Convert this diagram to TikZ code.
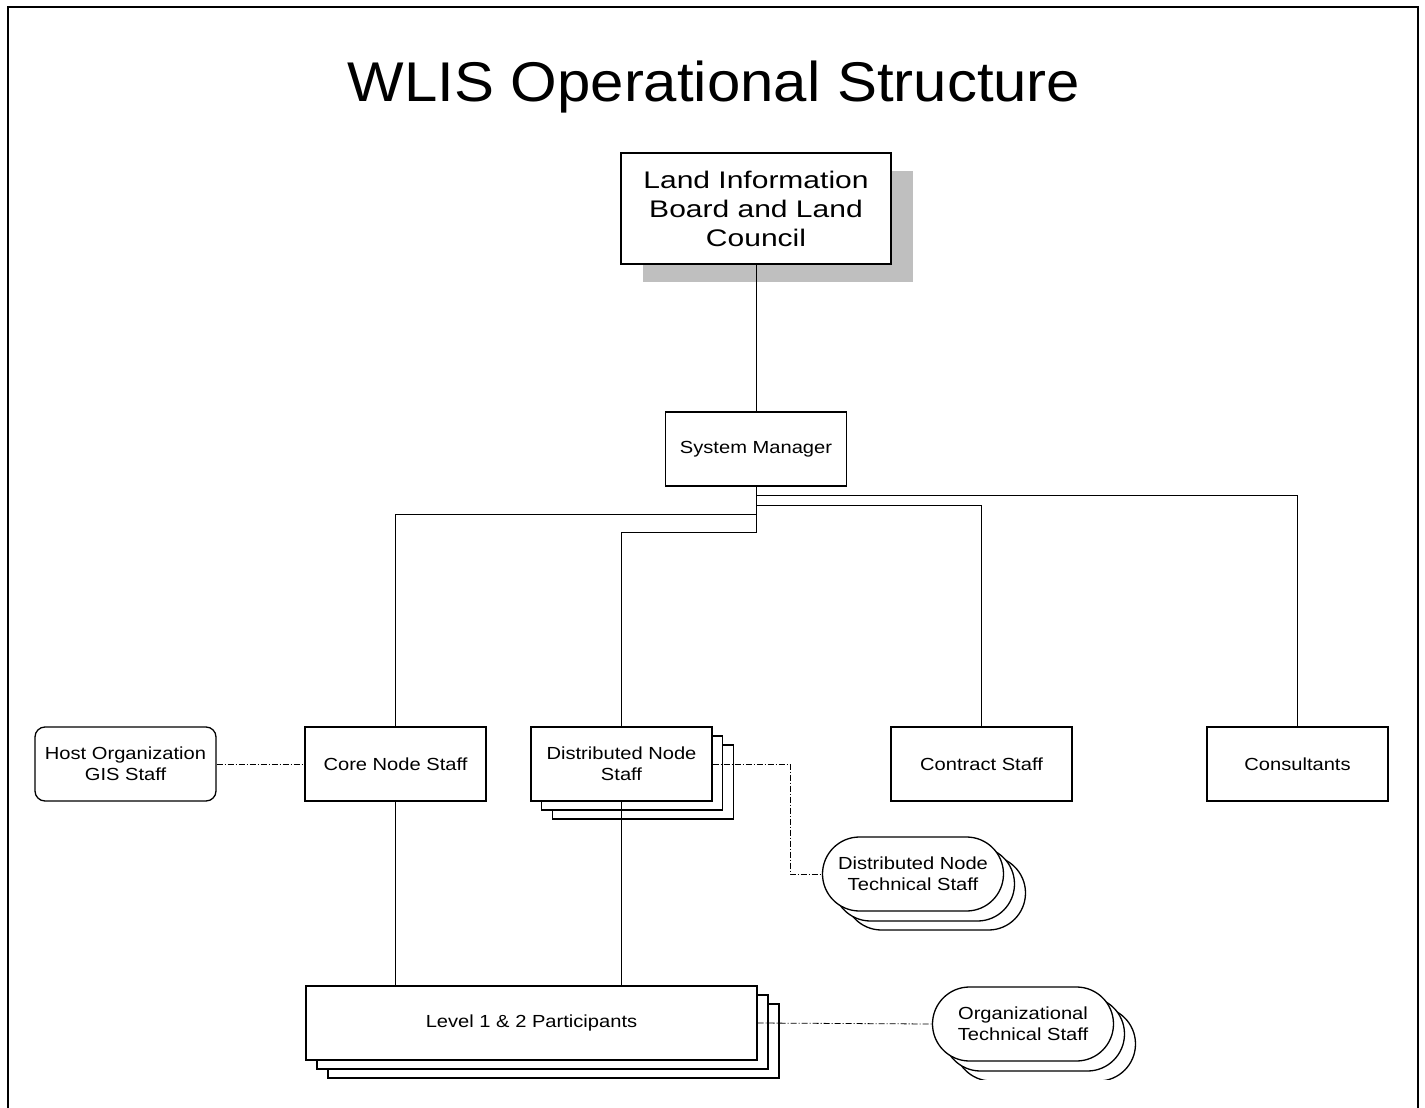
\documentclass[tikz,border=0pt]{standalone}
\usepackage{fontspec}
\setmainfont{Liberation Sans}
% horizontally widened faces for the headings and box labels
\newfontfamily\titleface{Liberation Sans}[FakeStretch=1.07]
\newfontfamily\boardface{Liberation Sans}[FakeStretch=1.25]
\newfontfamily\labelface{Liberation Sans}[FakeStretch=1.15]
\begin{document}
\begin{tikzpicture}[x=1pt,y=-1pt,
  unit/.style={draw=black, line width=1.3pt, fill=white, inner sep=0pt,
    minimum width=181pt, minimum height=74pt, align=center,
    font=\labelface\fontsize{17.5}{21}\selectfont},
  soft/.style={unit, rounded corners=10pt},
  pill/.style={unit, rounded corners=37pt},
  link/.style={line width=0.8pt},
  dotlink/.style={line width=0.8pt, dash pattern=on 6pt off 2pt on 1pt off 2pt}]
\useasboundingbox (0,0) rectangle (1425,1108);

% page frame (open at the bottom)
\draw[line width=2.5pt] (8,1108) -- (8,7) -- (1418,7) -- (1418,1108);

% title
\node[anchor=base, inner sep=0pt, font=\titleface\fontsize{56}{60}\selectfont] (title) at (714,102) {WLIS Operational Structure};

% board with drop shadow
\fill[black!25] (643,171) rectangle (913,282);
\node[unit, minimum width=270pt, minimum height=111pt,
      font=\boardface\fontsize{24}{29}\selectfont] (board) at (756,208.5)
  {Land Information\\Board and Land\\Council};

\node[unit] (mgr) at (756,449) {System Manager};

% second row
\node[soft] (host) at (125.5,764) {Host Organization\\GIS Staff};
\node[unit] (core) at (395.5,764) {Core Node Staff};
\node[unit] (dist3) at (643,782) {};
\node[unit] (dist2) at (632,773) {};
\node[unit] (dist) at (621.5,764) {Distributed Node\\Staff};
\node[unit] (contract) at (981.5,764) {Contract Staff};
\node[unit] (cons) at (1297.5,764) {Consultants};

% distributed node technical staff (stacked)
\node[pill] (dtech3) at (935,893) {};
\node[pill] (dtech2) at (924,884) {};
\node[pill] (dtech) at (913,874) {Distributed Node\\Technical Staff};

% participants (stacked)
\node[unit, minimum width=451pt] (level3) at (553.5,1041) {};
\node[unit, minimum width=451pt] (level2) at (542.5,1032) {};
\node[unit, minimum width=451pt] (level) at (531.5,1023) {Level 1 \& 2 Participants};

% organizational technical staff (stacked, cut at the lower edge)
\begin{scope}
  \clip (0,0) rectangle (1425,1079);
  \node[pill] (otech3) at (1045,1044) {};
\end{scope}
\node[pill] (otech2) at (1034,1034) {};
\node[pill] (otech) at (1023,1024) {Organizational\\Technical Staff};

% reporting lines
\draw[link] (board.south) -- (mgr.north);
\draw[link] (mgr.south) -- ++(0,46);
\draw[link] (mgr.south) ++(0,9) -| (cons.north);
\draw[link] (mgr.south) ++(0,19) -| (contract.north);
\draw[link] (mgr.south) ++(0,28) -| (core.north);
\draw[link] (mgr.south) ++(0,46) -| (dist.north);
\draw[link] (core.south) -- (core.south |- level.north);
\draw[link] (dist.south) -- (dist.south |- level.north);

% support relations
\coordinate (dbend) at (790,764);
\draw[dotlink] (host.east) -- (core.west);
\draw[dotlink] (dist.east) -- (dbend) |- (dtech.west);
\draw[dotlink] (level.east) -- (otech.west);
\end{tikzpicture}
\end{document}
